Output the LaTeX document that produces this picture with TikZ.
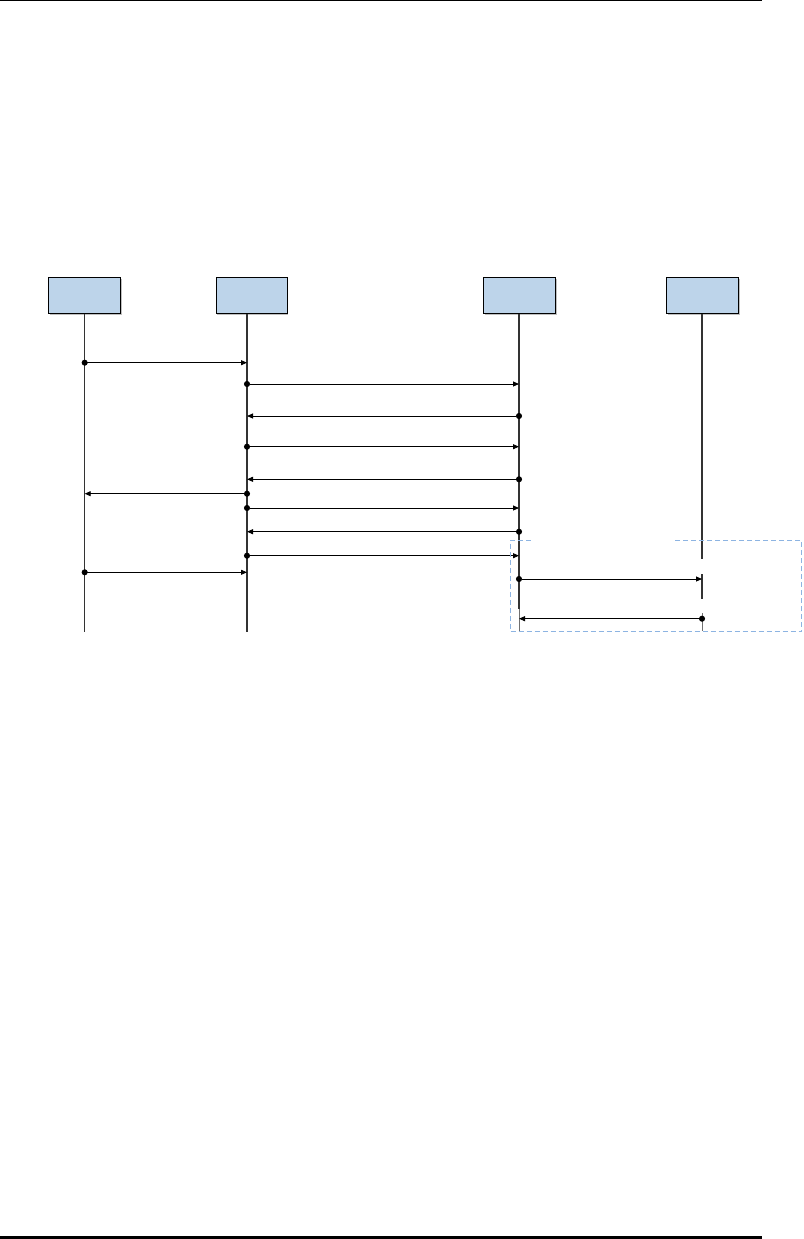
\documentclass[tikz,border=0pt]{standalone}
\usepackage{tikz}
\usetikzlibrary{arrows.meta, shadows}
\usepackage{xcolor}
\definecolor{boxblue}{HTML}{BDD4EA}
\definecolor{lifegray}{HTML}{333333}
\definecolor{framedash}{HTML}{8DB4E2}
\tikzset{
  actor/.style={draw, fill=boxblue, minimum width=72pt, minimum height=36pt, inner sep=0pt,
    drop shadow={shadow xshift=1.5pt, shadow yshift=-1.5pt, fill=black!25, opacity=1}},
  life/.style={lifegray, line width=1.3pt},
  thinlife/.style={lifegray!70, line width=0.6pt},
  msg/.style={line width=0.9pt, {Circle[length=6pt]}-{Triangle[length=6pt,width=5pt]}, shorten <=-3pt},
}

\begin{document}
\begin{tikzpicture}[x=1pt, y=-1pt]
    \useasboundingbox (0,0) rectangle (803,1239);
    \draw[line width=0.7pt] (0,0.5) -- (762,0.5);
    \draw[line width=3pt] (0,1237.5) -- (762,1237.5);
    % participants
    \node[actor] (p1) at (84.5,295.3) {};
    \node[actor, minimum width=71pt] (p2) at (251.2,295.3) {};
    \node[actor] (p3) at (519.5,295.3) {};
    \node[actor] (p4) at (702.5,295.3) {};
    \coordinate (l1) at (p1.south -| 84.7,0);
    \coordinate (l2) at (p2.south -| 247,0);
    \coordinate (l3) at (p3.south -| 519,0);
    \coordinate (l4) at (p4.south -| 702,0);
    % lifelines
    \draw[life] (l1) -- (l1 |- 0,631.7);
    \draw[life] (l2) -- (l2 |- 0,631.7);
    \draw[life] (l3) -- (l3 |- 0,609);
    \draw[thinlife] (l3 |- 0,609) -- (l3 |- 0,631);
    \draw[life] (l4) -- (l4 |- 0,559.3);
    \draw[life] (l4 |- 0,574) -- (l4 |- 0,598.7);
    \draw[thinlife] (l4 |- 0,613) -- (l4 |- 0,631);
    % messages
    \foreach \y/\a/\b in {362.7/l1/l2, 384/l2/l3, 416/l3/l2, 446.7/l2/l3, 479.3/l3/l2,
        493.7/l2/l1, 508/l2/l3, 531.7/l3/l2, 555.7/l2/l3, 572.3/l1/l2, 579/l3/l4, 618.7/l4/l3}
      \draw[msg] (\a |- 0,\y) -- (\b |- 0,\y);
    % frame
    \draw[framedash, line width=1.2pt, dash pattern=on 5pt off 3pt]
      (530.7,540.3) -- (510.3,540.3) -- (510.3,631.5) -- (801.8,631.5) -- (801.8,540.3) -- (675,540.3);
\end{tikzpicture}
\end{document}
